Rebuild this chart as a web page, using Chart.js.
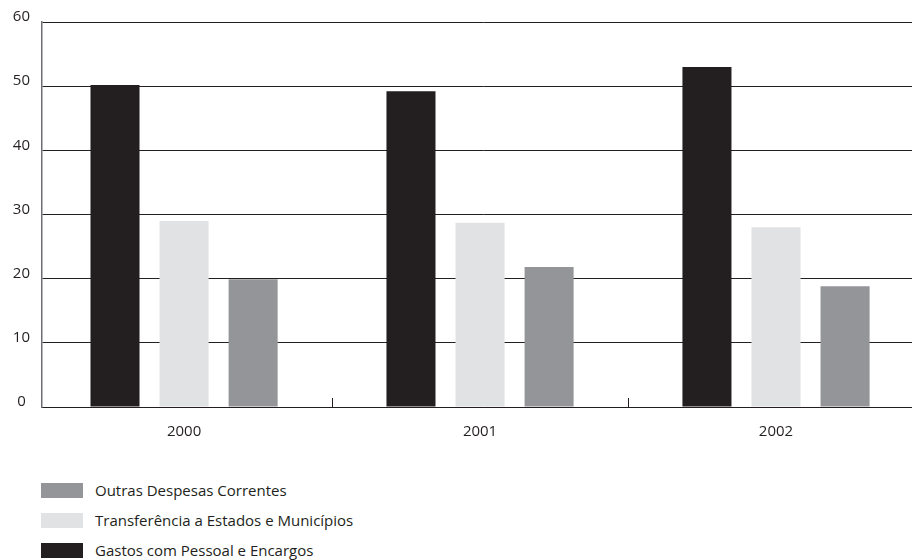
<!DOCTYPE html>
<html lang="pt">
  <head>
    <meta charset="UTF-8" />
    <title>Despesas 2000-2002</title>
    <script src="https://cdn.jsdelivr.net/npm/chart.js@4.4.1/dist/chart.umd.min.js"></script>
    <style>
      html, body { margin: 0; padding: 0; background: #fff; overflow: hidden; }
      #wrap { position: relative; width: 924px; height: 450px; }
      #legend { position: absolute; left: 41px; top: 475px; font-family: "Open Sans", sans-serif; font-size: 15px; color: #231f20; }
      #legend div { display: flex; align-items: center; height: 30px; }
      #legend span.box { display: inline-block; width: 42px; height: 15px; margin-right: 12px; }
    </style>
  </head>
  <body>
    <div id="wrap"><canvas id="myChart"></canvas></div>
    <div id="legend"></div>

    <script>
  const years = ['2000', '2001', '2002'];
  const pessoal = [50.2, 49.2, 53.0];
  const transferencia = [29.0, 28.7, 28.0];
  const outras = [19.9, 21.8, 18.8];
  const yTicks = [0, 10, 20, 30, 40, 50, 60];

  const ink = '#231f20';
  const tickFont = { family: '"Open Sans", sans-serif', size: 15 };

  const points = arr => arr.map((v, i) => ({ x: i, y: v }));

  // small upward tick marks on the x axis between the years
  const xTicks = {
    id: 'xTicks',
    afterDatasetsDraw(chart) {
      const x = chart.scales.x, ctx = chart.ctx, bottom = chart.chartArea.bottom;
      ctx.save();
      ctx.strokeStyle = ink;
      ctx.lineWidth = 1;
      for (let i = 0; i < years.length - 1; i++) {
        const px = Math.round(x.getPixelForValue(i + 0.5)) + 0.5;
        ctx.beginPath();
        ctx.moveTo(px, bottom);
        ctx.lineTo(px, bottom - 9);
        ctx.stroke();
      }
      ctx.restore();
    }
  };

  const ctx = document.getElementById('myChart').getContext('2d');
  const myChart = new Chart(ctx, {
    type: 'bar',
    data: {
      datasets: [
        { label: 'Gastos com Pessoal e Encargos', data: points(pessoal), backgroundColor: '#231f20' },
        { label: 'Transferência a Estados e Municípios', data: points(transferencia), backgroundColor: '#e1e2e4' },
        { label: 'Outras Despesas Correntes', data: points(outras), backgroundColor: '#939598' }
      ]
    },
    options: {
      responsive: true,
      maintainAspectRatio: false,
      animation: false,
      layout: { padding: { top: 22, left: 0, right: 0, bottom: 0 } },
      datasets: { bar: { categoryPercentage: 0.70, barPercentage: 0.71 } },
      plugins: { legend: { display: false }, tooltip: { enabled: false } },
      scales: {
        x: {
          type: 'linear',
          offset: false,
          min: -0.48,
          max: 2.5,
          afterBuildTicks(scale) { scale.ticks = years.map((y, i) => ({ value: i })); },
          grid: { display: false, offset: false },
          border: { color: ink, width: 1 },
          ticks: { color: ink, font: tickFont, padding: 8, callback: (v) => years[v] },
          afterFit(scale) { scale.height = 43; }
        },
        y: {
          min: 0,
          max: 60,
          afterBuildTicks(scale) { scale.ticks = yTicks.map(v => ({ value: v })); },
          grid: { color: ink, lineWidth: 1, drawTicks: false },
          border: { color: '#6d6e71', width: 1.5 },
          ticks: { color: ink, font: tickFont, padding: 12, labelOffset: -5, crossAlign: 'center' },
          afterFit(scale) { scale.width = 42; }
        }
      }
    },
    plugins: [xTicks]
  });

  // legend listed in reverse order, stacked vertically
  const legend = document.getElementById('legend');
  myChart.data.datasets.slice().reverse().forEach(ds => {
    const row = document.createElement('div');
    row.innerHTML = '<span class="box" style="background:' + ds.backgroundColor + '"></span>' + ds.label;
    legend.appendChild(row);
  });
    </script>
  </body>
</html>
